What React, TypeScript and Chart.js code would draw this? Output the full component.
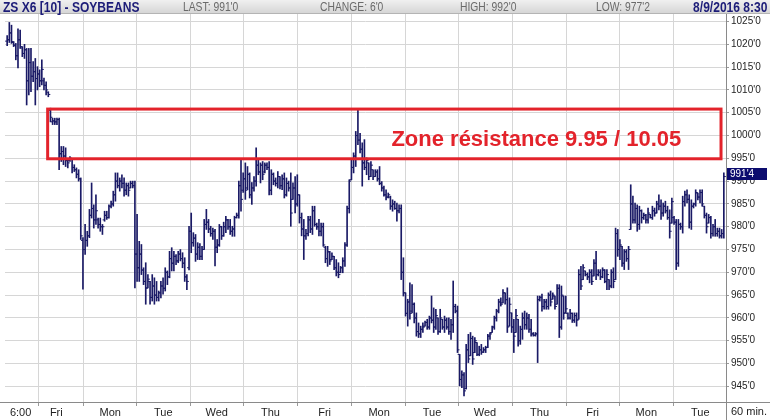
import React, { useEffect, useRef } from 'react';
import { Chart, registerables } from 'chart.js';

Chart.register(...registerables);

// ---- Data (60-min OHLC bars, ZS X6 Soybeans) ----
const highs = [
  1021.9, 1024.8, 1024.2, 1020.6, 1020.2, 1023.4, 1023.1, 1019.5, 1020.0, 1019.1,
  1019.1, 1019.1, 1016.2, 1016.9, 1015.1, 1014.4, 1016.6, 1012.6, 1011.8, 1009.6,
  1006.0, 1003.8, 1003.8, 1003.8, 1003.8, 997.6, 997.6, 997.3, 995.0, 995.4,
  995.0, 993.6, 992.9, 992.5, 990.7, 977.6, 980.5, 979.0, 983.8, 989.6,
  984.8, 987.0, 981.9, 981.9, 980.5, 983.4, 983.4, 984.8, 985.6, 987.8,
  991.8, 991.8, 990.7, 991.4, 990.7, 989.6, 989.6, 990.0, 990.0, 990.0,
  982.7, 976.8, 976.1, 971.0, 972.1, 969.5, 968.0, 969.5, 968.8, 968.0,
  965.9, 968.0, 968.8, 971.0, 970.3, 974.6, 975.4, 974.6, 973.9, 974.6,
  975.0, 974.3, 973.2, 969.5, 980.1, 983.0, 978.7, 978.3, 976.5, 976.3,
  975.7, 981.6, 983.8, 981.6, 980.1, 979.7, 979.4, 977.2, 980.5, 980.1,
  981.0, 982.3, 981.6, 981.6, 980.1, 982.3, 983.0, 990.0, 994.7, 991.8,
  994.0, 993.2, 991.8, 989.7, 991.0, 997.3, 994.7, 994.0, 994.3, 994.0,
  994.0, 994.3, 992.5, 991.8, 990.7, 992.1, 991.0, 991.4, 991.8, 990.7,
  990.0, 991.8, 989.6, 991.0, 991.4, 987.0, 983.0, 981.6, 979.4, 982.3,
  982.3, 984.5, 984.5, 980.8, 981.6, 980.8, 980.8, 975.7, 975.7, 974.6,
  974.3, 973.5, 972.8, 972.1, 971.3, 973.2, 976.5, 984.5, 990.3, 994.7,
  996.2, 1000.9, 1005.8, 1000.5, 998.4, 999.1, 995.1, 994.0, 994.3, 992.5,
  992.5, 992.5, 993.2, 989.9, 988.9, 988.1, 987.4, 986.7, 985.9, 985.6,
  985.2, 984.8, 984.8, 973.2, 965.5, 964.1, 967.7, 967.3, 963.3, 961.1,
  958.9, 958.2, 958.9, 959.3, 959.7, 960.4, 964.8, 962.2, 961.9, 960.0,
  961.9, 959.7, 960.4, 960.0, 960.0, 959.7, 968.1, 963.0, 962.6, 952.0,
  948.4, 948.0, 954.2, 956.4, 956.8, 956.0, 955.7, 954.6, 953.8, 954.2,
  953.5, 953.8, 956.4, 956.8, 958.2, 960.4, 961.9, 964.1, 964.4, 966.2,
  965.5, 966.6, 964.4, 961.1, 959.7, 961.9, 959.7, 958.2, 961.1, 961.5,
  961.1, 960.8, 959.7, 956.8, 956.8, 964.8, 964.8, 965.2, 964.1, 964.1,
  965.5, 965.9, 965.5, 964.8, 967.3, 967.3, 967.0, 964.8, 964.8, 961.1,
  961.9, 961.1, 961.1, 961.1, 970.6, 971.3, 971.7, 970.3, 969.9, 970.6,
  970.6, 972.8, 974.6, 970.6, 970.6, 971.0, 970.6, 970.6, 968.4, 970.6,
  971.0, 979.7, 979.4, 977.2, 975.7, 975.0, 975.0, 975.7, 989.2, 986.7,
  985.2, 984.8, 984.5, 983.7, 983.0, 982.7, 984.1, 982.7, 984.5, 984.1,
  985.6, 987.0, 985.9, 985.2, 985.6, 984.5, 983.7, 986.3, 982.3, 981.6,
  981.6, 980.8, 986.7, 987.8, 988.1, 987.0, 985.9, 985.2, 988.1, 987.4,
  988.1, 988.1, 984.5, 983.0, 982.7, 982.3, 980.5, 981.6, 979.7, 979.7,
  979.4, 991.8,
];

const lows = [
  1019.7, 1020.4, 1020.2, 1019.5, 1016.6, 1014.8, 1019.1, 1017.3, 1016.9, 1006.7,
  1008.9, 1009.6, 1011.8, 1006.7, 1010.0, 1010.7, 1011.1, 1010.0, 1008.9, 1008.5,
  1003.0, 1002.4, 1002.4, 1002.4, 992.5, 994.3, 993.6, 993.2, 992.9, 994.3,
  991.8, 992.1, 990.7, 990.0, 977.2, 966.3, 973.9, 975.7, 977.6, 981.9,
  979.7, 980.5, 979.7, 979.0, 978.3, 981.2, 981.6, 981.9, 984.1, 984.5,
  985.6, 988.5, 987.8, 988.5, 986.7, 987.0, 986.7, 988.5, 988.5, 966.6,
  968.0, 968.0, 969.5, 967.3, 963.0, 966.6, 963.0, 963.7, 963.0, 963.7,
  963.7, 964.4, 965.2, 965.9, 967.3, 968.8, 970.3, 970.3, 971.7, 972.1,
  972.5, 971.0, 968.0, 966.2, 970.5, 974.3, 975.7, 972.4, 972.8, 972.8,
  972.8, 975.0, 979.4, 978.7, 977.9, 977.2, 971.4, 974.3, 975.7, 977.2,
  977.9, 978.7, 979.4, 978.3, 977.9, 977.9, 981.9, 981.9, 983.4, 987.5,
  986.0, 988.1, 986.3, 984.9, 987.8, 988.9, 991.4, 989.6, 990.3, 991.8,
  992.5, 987.0, 987.0, 989.2, 988.9, 988.5, 988.3, 988.1, 986.3, 986.7,
  987.8, 980.1, 986.0, 983.0, 984.5, 980.8, 978.0, 972.8, 977.2, 978.0,
  978.7, 978.3, 980.1, 979.4, 978.0, 978.0, 975.7, 972.1, 971.3, 971.7,
  972.8, 970.6, 969.2, 968.8, 969.9, 969.9, 971.3, 975.7, 983.0, 990.3,
  991.8, 993.2, 998.0, 996.2, 988.9, 992.5, 991.4, 990.3, 991.0, 990.3,
  991.0, 990.0, 989.2, 987.8, 986.7, 985.9, 986.3, 983.8, 983.4, 983.8,
  981.2, 983.0, 968.4, 964.8, 960.4, 958.2, 959.7, 961.1, 958.9, 956.0,
  955.7, 955.7, 956.8, 958.2, 957.5, 957.5, 958.9, 956.8, 957.5, 956.4,
  956.8, 957.5, 956.8, 957.5, 956.4, 955.3, 956.8, 961.1, 952.4, 945.1,
  944.7, 942.9, 944.4, 950.2, 951.7, 949.8, 952.4, 951.7, 951.7, 952.0,
  952.4, 952.4, 953.5, 955.3, 956.8, 957.5, 959.3, 961.1, 962.6, 963.3,
  963.0, 956.8, 958.2, 956.8, 952.4, 956.8, 953.8, 954.2, 955.3, 957.5,
  957.5, 956.8, 956.0, 956.0, 956.0, 950.2, 963.7, 961.5, 961.9, 961.9,
  961.9, 962.6, 964.1, 961.9, 963.0, 955.7, 957.5, 959.7, 961.1, 959.7,
  959.7, 959.0, 959.0, 958.2, 959.7, 966.2, 968.4, 969.2, 968.4, 967.7,
  967.3, 969.2, 968.4, 969.2, 968.4, 968.8, 967.7, 966.2, 966.2, 966.6,
  966.6, 968.4, 973.5, 972.8, 971.3, 970.6, 972.4, 970.6, 979.4, 980.8,
  980.8, 979.0, 979.4, 980.8, 981.6, 980.8, 980.8, 981.9, 981.6, 982.3,
  983.0, 983.7, 981.6, 982.3, 983.0, 981.6, 977.5, 980.8, 980.5, 970.6,
  971.3, 979.4, 978.6, 984.5, 985.2, 979.7, 979.4, 984.1, 984.5, 985.9,
  985.2, 984.5, 981.9, 978.6, 980.8, 977.5, 977.9, 977.9, 977.9, 977.5,
  977.5, 977.5,
];

const opens = [
  1020.7, 1021.0, 1022.5, 1020.4, 1019.8, 1017.5, 1021.0, 1019.2, 1018.0, 1018.8,
  1012.0, 1016.0, 1013.0, 1014.0, 1012.5, 1013.5, 1012.0, 1012.0, 1011.0, 1009.5,
  1005.5, 1003.0, 1003.2, 1003.0, 1003.5, 996.0, 996.5, 995.5, 994.5, 994.5,
  995.0, 993.0, 992.5, 991.5, 990.5, 977.0, 975.0, 977.0, 978.0, 982.5,
  984.0, 981.5, 981.5, 980.5, 980.0, 981.5, 982.5, 982.0, 984.5, 985.0,
  987.0, 990.0, 989.0, 990.0, 989.5, 988.0, 989.0, 988.5, 989.5, 989.0,
  974.0, 971.0, 974.0, 970.5, 968.0, 966.6, 968.0, 964.5, 967.0, 965.0,
  964.5, 965.5, 967.0, 966.5, 970.0, 969.0, 973.0, 972.0, 973.5, 972.5,
  974.0, 973.0, 972.0, 969.0, 971.0, 979.0, 976.5, 977.5, 974.0, 975.5,
  973.5, 975.0, 980.5, 981.0, 979.5, 978.5, 979.0, 975.5, 976.0, 980.0,
  978.0, 980.0, 981.5, 980.0, 979.0, 979.5, 982.0, 982.5, 989.0, 988.0,
  990.5, 988.5, 991.5, 987.0, 988.5, 990.0, 993.5, 992.0, 993.5, 992.0,
  993.5, 993.0, 988.0, 991.5, 990.0, 989.5, 991.0, 989.0, 990.5, 987.0,
  989.5, 988.5, 986.0, 988.5, 985.0, 987.0, 982.0, 979.5, 978.0, 978.5,
  981.5, 979.5, 983.5, 980.5, 980.0, 979.0, 980.0, 975.5, 973.0, 974.5,
  972.8, 973.5, 971.0, 970.0, 970.0, 971.0, 972.5, 976.0, 984.0, 990.3,
  993.0, 995.5, 1000.0, 999.0, 997.0, 994.0, 993.0, 994.0, 991.0, 992.5,
  991.0, 992.0, 990.5, 989.5, 988.5, 987.0, 986.5, 986.5, 984.5, 985.0,
  984.0, 983.5, 984.0, 970.0, 965.5, 961.0, 963.5, 961.5, 963.0, 960.0,
  957.0, 956.5, 957.5, 958.2, 959.0, 958.0, 960.0, 959.5, 958.0, 960.0,
  957.0, 959.7, 958.0, 959.5, 958.0, 957.0, 958.5, 962.5, 961.5, 952.0,
  946.5, 947.5, 944.5, 953.0, 951.7, 955.5, 952.4, 954.6, 952.0, 953.0,
  952.5, 953.0, 953.5, 956.0, 956.8, 958.0, 960.0, 961.5, 963.5, 963.3,
  965.5, 964.0, 958.2, 961.1, 958.0, 956.8, 959.7, 955.0, 957.5, 960.0,
  958.5, 960.0, 957.5, 956.5, 956.2, 956.5, 964.0, 964.5, 962.5, 963.5,
  962.5, 965.0, 964.1, 964.8, 963.0, 966.5, 958.0, 964.8, 961.1, 961.0,
  960.0, 961.0, 959.5, 960.5, 959.7, 969.5, 968.4, 970.3, 969.5, 969.0,
  970.0, 969.2, 972.0, 969.5, 970.0, 969.0, 970.5, 968.0, 968.4, 967.0,
  970.0, 968.4, 978.5, 975.0, 975.7, 972.0, 974.5, 973.0, 979.4, 985.0,
  981.5, 984.0, 980.5, 983.5, 982.0, 982.5, 981.5, 982.7, 982.0, 983.5,
  983.0, 985.0, 984.5, 983.0, 984.5, 983.5, 982.0, 980.8, 982.0, 981.0,
  972.0, 980.5, 980.0, 985.5, 987.0, 986.0, 981.0, 984.5, 985.0, 987.4,
  986.5, 987.5, 984.5, 982.5, 980.8, 982.0, 978.5, 980.0, 978.5, 979.0,
  978.0, 978.5,
];

const closes = [
  1021.0, 1022.5, 1020.6, 1019.8, 1017.5, 1021.0, 1019.5, 1018.0, 1018.8, 1012.0,
  1016.0, 1013.0, 1014.0, 1012.5, 1013.5, 1012.0, 1014.5, 1011.0, 1010.0, 1009.0,
  1004.0, 1003.2, 1003.0, 1003.5, 996.0, 996.5, 995.5, 994.5, 994.0, 995.0,
  993.0, 992.5, 991.5, 990.5, 978.0, 975.0, 977.0, 978.0, 982.5, 984.0,
  981.5, 983.5, 980.5, 980.0, 980.0, 982.5, 982.0, 984.5, 985.0, 987.0,
  990.0, 989.0, 990.0, 989.5, 988.0, 989.0, 988.0, 989.5, 989.0, 974.0,
  971.0, 974.0, 970.5, 968.0, 966.5, 968.5, 964.5, 967.0, 965.0, 964.5,
  965.5, 967.0, 966.5, 970.0, 969.0, 973.0, 972.0, 973.5, 972.5, 974.0,
  973.0, 972.0, 969.0, 968.0, 979.0, 976.5, 977.5, 974.0, 975.5, 973.5,
  975.0, 980.5, 981.0, 979.5, 978.5, 979.0, 975.5, 976.0, 980.0, 978.0,
  980.0, 981.5, 980.0, 979.0, 979.5, 982.0, 982.5, 989.0, 986.0, 990.5,
  988.0, 991.5, 987.0, 988.5, 990.0, 993.5, 992.0, 993.5, 991.5, 993.5,
  993.0, 988.0, 991.5, 990.0, 989.5, 991.0, 989.0, 990.5, 987.0, 989.5,
  988.5, 983.0, 988.5, 985.0, 987.0, 982.0, 979.5, 978.0, 978.5, 981.5,
  979.5, 983.5, 980.5, 980.0, 979.0, 980.0, 976.0, 973.0, 974.5, 972.5,
  973.5, 971.0, 970.0, 969.5, 971.0, 972.5, 976.0, 984.0, 990.0, 993.0,
  995.5, 1000.0, 999.0, 997.0, 994.0, 993.0, 994.5, 991.0, 993.5, 991.0,
  992.0, 990.5, 989.5, 988.5, 987.0, 986.5, 987.0, 984.5, 985.0, 984.0,
  983.5, 984.0, 970.0, 965.5, 961.0, 963.5, 961.0, 963.0, 960.0, 957.0,
  956.5, 957.5, 958.0, 959.0, 958.0, 960.0, 959.5, 958.0, 960.5, 957.0,
  960.0, 958.0, 959.5, 958.0, 957.0, 958.5, 962.5, 961.5, 953.0, 946.5,
  947.5, 944.0, 953.0, 951.0, 955.5, 951.0, 955.0, 952.0, 953.0, 952.5,
  953.0, 953.5, 956.0, 956.5, 958.0, 960.0, 961.5, 963.5, 963.0, 965.5,
  964.0, 958.0, 963.0, 958.0, 956.0, 960.5, 955.0, 957.5, 960.0, 958.5,
  960.0, 957.5, 956.5, 956.2, 956.5, 964.0, 964.5, 962.5, 963.5, 962.5,
  965.0, 963.5, 965.0, 962.5, 966.5, 958.0, 965.0, 961.0, 962.0, 960.0,
  961.0, 959.5, 960.5, 959.5, 969.5, 967.0, 971.0, 969.5, 969.0, 970.0,
  968.0, 972.0, 969.5, 970.0, 969.0, 970.5, 968.0, 969.5, 967.0, 970.0,
  968.0, 978.5, 975.0, 976.0, 972.0, 974.5, 973.0, 975.0, 985.0, 981.5,
  984.0, 980.5, 983.5, 982.0, 982.5, 981.5, 983.0, 982.0, 983.5, 983.0,
  985.0, 984.5, 983.0, 984.5, 983.5, 982.0, 979.0, 985.5, 981.0, 972.0,
  980.5, 980.0, 985.5, 987.0, 986.0, 981.0, 984.5, 985.0, 987.5, 986.5,
  987.5, 985.0, 982.5, 980.0, 982.0, 978.5, 980.0, 978.5, 979.0, 978.0,
  978.5, 991.0,
];

// x-axis session labels (bar index where each session starts)
const xTickPos = [6.2, 22.7, 47.6, 72.1, 96.8, 121.6, 146.6, 171.8, 196.2, 220.7, 245.9, 270.4, 295.2, 320.1];
const xTickLabels = ['6:00', 'Fri', 'Mon', 'Tue', 'Wed', 'Thu', 'Fri', 'Mon', 'Tue', 'Wed', 'Thu', 'Fri', 'Mon', 'Tue'];
const yTickValues = [945, 950, 955, 960, 965, 970, 975, 980, 985, 990, 995, 1000, 1005, 1010, 1015, 1020, 1025];

const yMin = 941.56;
const yMax = 1026.65;

// resistance zone annotation (bar index range / price range)
const zoneBars = [18.7, 329.7];
const zonePrices = [994.9, 1005.8];
const zoneLabel = 'Zone résistance 9.95 / 10.05';
const zoneLabelAt = [244.4, 999.0];

const lastTagValue = 991.5;
const lastTagLabel = "991'4";

const headerItems = {
  title: 'ZS X6 [10] - SOYBEANS',
  last: "LAST: 991'0",
  change: "CHANGE: 6'0",
  high: "HIGH: 992'0",
  low: "LOW: 977'2",
  date: '8/9/2016 8:30',
};

const NAVY = '#1a1a66';
const RED = '#e3232b';
const GRID = '#d6d6d6';
const SANS = "'Liberation Sans', Arial, sans-serif";

const overlayPlugin = {
  id: 'overlay',
  afterDatasetsDraw(chart: any) {
    const { ctx, scales } = chart;
    const xs = scales.x;
    const ys = scales.y;
    const x0 = xs.getPixelForValue(zoneBars[0]);
    const x1 = xs.getPixelForValue(zoneBars[1]);
    const yTop = ys.getPixelForValue(zonePrices[1]);
    const yBot = ys.getPixelForValue(zonePrices[0]);
    ctx.save();
    ctx.strokeStyle = RED;
    ctx.lineWidth = 3;
    ctx.strokeRect(x0, yTop, x1 - x0, yBot - yTop);
    ctx.fillStyle = RED;
    ctx.font = `bold 22px ${SANS}`;
    ctx.textAlign = 'center';
    ctx.textBaseline = 'middle';
    ctx.fillText(zoneLabel, xs.getPixelForValue(zoneLabelAt[0]), ys.getPixelForValue(zoneLabelAt[1]));
    ctx.restore();
  },
  afterDraw(chart: any) {
    const { ctx, scales, chartArea, width, height } = chart;
    const ys = scales.y;
    ctx.save();
    ctx.strokeStyle = '#8a8a8a';
    ctx.lineWidth = 1;
    ctx.beginPath();
    ctx.moveTo(Math.round(chartArea.right) + 0.5, chartArea.top);
    ctx.lineTo(Math.round(chartArea.right) + 0.5, height);
    ctx.moveTo(0, Math.round(chartArea.bottom) + 0.5);
    ctx.lineTo(width, Math.round(chartArea.bottom) + 0.5);
    ctx.stroke();
    const yy = Math.round(ys.getPixelForValue(lastTagValue));
    ctx.fillStyle = '#0c0c6e';
    ctx.fillRect(chartArea.right + 1, yy - 6, 40, 12);
    ctx.fillStyle = '#ffffff';
    ctx.font = `10px ${SANS}`;
    ctx.textAlign = 'left';
    ctx.textBaseline = 'middle';
    ctx.fillText(lastTagLabel, chartArea.right + 4, yy + 0.5);
    ctx.fillStyle = '#222';
    ctx.font = `11px ${SANS}`;
    ctx.textAlign = 'center';
    ctx.fillText('60 min.', (chartArea.right + width) / 2 + 1, chartArea.bottom + 10);
    ctx.restore();
  },
};

export default function App() {
  const canvasRef = useRef<HTMLCanvasElement | null>(null);

  useEffect(() => {
    const canvas = canvasRef.current;
    if (!canvas) return;
    const idx = highs.map((_, i) => i);
    const chart = new Chart(canvas, {
      type: 'bar',
      data: {
        datasets: [
          {
            type: 'bar',
            data: idx.map((i) => ({ x: i, y: [lows[i], highs[i]] })) as any,
            backgroundColor: NAVY,
            borderWidth: 0,
            barThickness: 1,
            order: 2,
          } as any,
          {
            type: 'scatter',
            data: idx.map((i) => ({ x: i - 0.46, y: opens[i] })),
            pointStyle: 'line',
            pointRadius: 1,
            borderColor: NAVY,
            borderWidth: 1,
            showLine: false,
            order: 1,
          } as any,
          {
            type: 'scatter',
            data: idx.map((i) => ({ x: i + 0.46, y: closes[i] })),
            pointStyle: 'line',
            pointRadius: 1,
            borderColor: NAVY,
            borderWidth: 1,
            showLine: false,
            order: 1,
          } as any,
        ],
      },
      options: {
        animation: false,
        responsive: false,
        devicePixelRatio: 1,
        events: [],
        layout: { padding: { top: 8, left: 0, right: 0, bottom: 0 } },
        plugins: {
          legend: { display: false },
          tooltip: { enabled: false },
        },
        scales: {
          x: {
            type: 'linear',
            min: -1,
            max: highs.length,
            offset: false,
            afterBuildTicks: (axis: any) => {
              axis.ticks = xTickPos.map((v) => ({ value: v }));
            },
            afterFit: (axis: any) => {
              axis.height = 18;
            },
            grid: { color: GRID, lineWidth: 1, drawTicks: true, tickLength: 4, tickColor: '#9a9a9a' },
            border: { display: true, color: '#8a8a8a' },
            ticks: {
              autoSkip: false,
              maxRotation: 0,
              minRotation: 0,
              padding: 0,
              color: '#1e1e1e',
              font: { family: SANS, size: 11 },
              callback: (_v: any, i: number) => xTickLabels[i],
            },
          },
          y: {
            type: 'linear',
            position: 'right',
            min: yMin,
            max: yMax,
            afterBuildTicks: (axis: any) => {
              axis.ticks = yTickValues.map((v) => ({ value: v }));
            },
            afterFit: (axis: any) => {
              axis.width = 44;
            },
            grid: { color: GRID, lineWidth: 1, drawTicks: true, tickLength: 3, tickColor: '#9a9a9a' },
            border: { display: true, color: '#8a8a8a' },
            ticks: {
              padding: 2,
              color: '#1e1e1e',
              font: { family: SANS, size: 10 },
              callback: (v: any) => `${v}'0`,
            },
          },
        },
      } as any,
      plugins: [overlayPlugin],
    });
    return () => chart.destroy();
  }, []);

  const hdrText: React.CSSProperties = {
    position: 'absolute',
    top: 0,
    fontFamily: SANS,
    fontSize: 12,
    color: '#6a6a6a',
    whiteSpace: 'nowrap',
    lineHeight: '14px',
    transform: 'scaleX(0.86)',
    transformOrigin: 'left center',
  };
  const hdrBold: React.CSSProperties = {
    ...hdrText,
    fontSize: 14,
    fontWeight: 'bold',
    color: '#1c1c78',
  };

  return (
    <div style={{ position: 'relative', width: 770, height: 420, background: '#fff', overflow: 'hidden' }}>
      <style>{'body{margin:0;}'}</style>
      <canvas
        ref={canvasRef}
        width={770}
        height={414}
        style={{ position: 'absolute', left: 0, top: 6, width: 770, height: 414 }}
      />
      <div
        style={{
          position: 'absolute',
          left: 0,
          top: 0,
          width: 770,
          height: 13,
          background: 'linear-gradient(#f0f0f0, #d6d6d6)',
          borderBottom: '1px solid #b4b4b4',
          zIndex: 2,
        }}
      >
        <span style={{ ...hdrBold, left: 3 }}>{headerItems.title}</span>
        <span style={{ ...hdrText, left: 183 }}>{headerItems.last}</span>
        <span style={{ ...hdrText, left: 320 }}>{headerItems.change}</span>
        <span style={{ ...hdrText, left: 460 }}>{headerItems.high}</span>
        <span style={{ ...hdrText, left: 596 }}>{headerItems.low}</span>
        <span style={{ ...hdrBold, right: 3, transformOrigin: 'right center' }}>{headerItems.date}</span>
      </div>
    </div>
  );
}
